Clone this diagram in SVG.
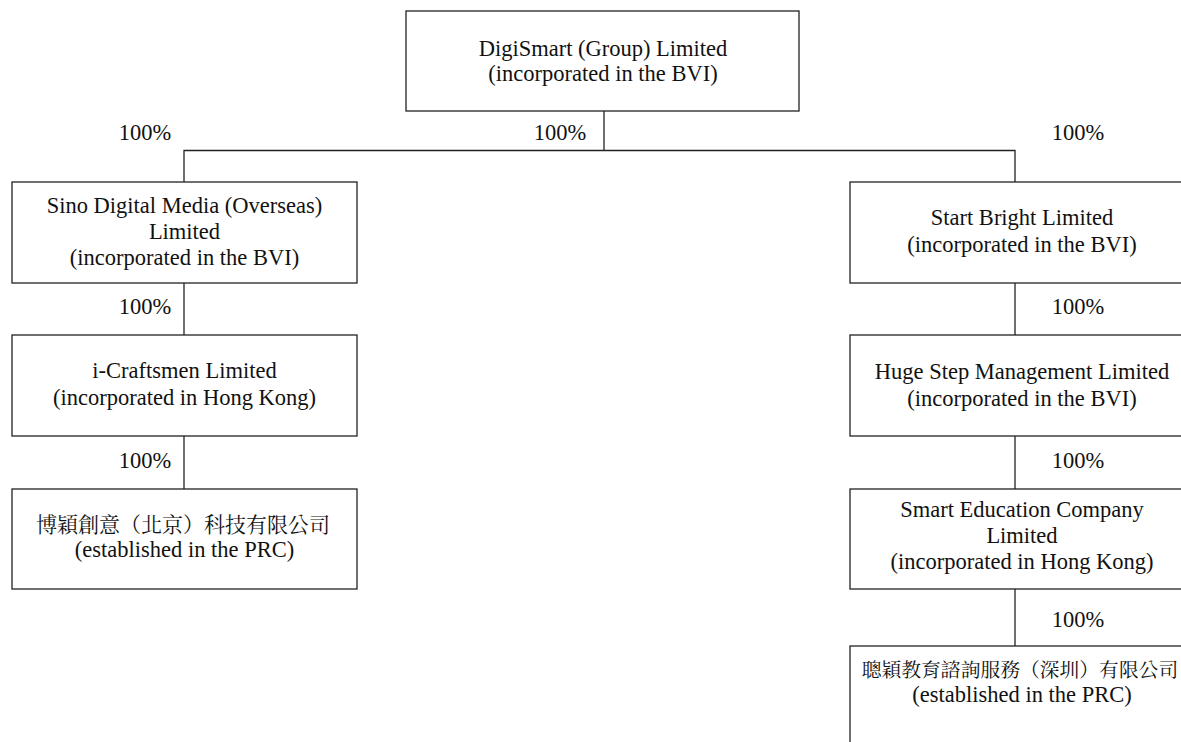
<svg xmlns="http://www.w3.org/2000/svg" width="1181" height="742" viewBox="0 0 1181 742">
<style>
.box{fill:#fff;stroke:#222;stroke-width:1.3}
.ln{fill:none;stroke:#222;stroke-width:1.3}
text{font-family:"Liberation Serif","Noto Serif CJK TC","Noto Sans CJK TC",serif;font-size:22.5px;fill:#111;text-anchor:middle}
.cjk{font-size:21px}
.cjk2{font-size:19.8px}
</style>
<rect width="1181" height="742" fill="#fff"/>
<g id="connectors">
<polyline class="ln" points="604,111 604,150.5"/>
<polyline class="ln" points="184,182 184,150.5 1015,150.5 1015,182"/>
<line class="ln" x1="184" y1="283" x2="184" y2="335"/>
<line class="ln" x1="184" y1="436" x2="184" y2="489"/>
<line class="ln" x1="1015" y1="283" x2="1015" y2="335"/>
<line class="ln" x1="1015" y1="436" x2="1015" y2="489"/>
<line class="ln" x1="1015" y1="589" x2="1015" y2="646"/>
<text x="145" y="140">100%</text>
<text x="560" y="140">100%</text>
<text x="1078" y="140">100%</text>
<text x="145" y="314">100%</text>
<text x="145" y="468">100%</text>
<text x="1078" y="314">100%</text>
<text x="1078" y="468">100%</text>
<text x="1078" y="627">100%</text>
</g>
<g id="n-digismart">
<rect class="box" x="406" y="11" width="393" height="100"/>
<text x="603" y="56">DigiSmart (Group) Limited</text>
<text x="603" y="81">(incorporated in the BVI)</text>
</g>
<g id="n-sino">
<rect class="box" x="12" y="182" width="345" height="101"/>
<text x="184.5" y="213">Sino Digital Media (Overseas)</text>
<text x="184.5" y="239">Limited</text>
<text x="184.5" y="265">(incorporated in the BVI)</text>
</g>
<g id="n-icraftsmen">
<rect class="box" x="12" y="335" width="345" height="101"/>
<text x="184.5" y="378">i-Craftsmen Limited</text>
<text x="184.5" y="405">(incorporated in Hong Kong)</text>
</g>
<g id="n-boying">
<rect class="box" x="12" y="489" width="345" height="100"/>
<text class="cjk" x="183" y="532">博穎創意（北京）科技有限公司</text>
<text x="184.5" y="557">(established in the PRC)</text>
</g>
<g id="n-startbright">
<rect class="box" x="850" y="182" width="345" height="101"/>
<text x="1022" y="225">Start Bright Limited</text>
<text x="1022" y="252">(incorporated in the BVI)</text>
</g>
<g id="n-hugestep">
<rect class="box" x="850" y="335" width="345" height="101"/>
<text x="1022" y="379">Huge Step Management Limited</text>
<text x="1022" y="406">(incorporated in the BVI)</text>
</g>
<g id="n-smartedu">
<rect class="box" x="850" y="489" width="345" height="100"/>
<text x="1022" y="517">Smart Education Company</text>
<text x="1022" y="543">Limited</text>
<text x="1022" y="569">(incorporated in Hong Kong)</text>
</g>
<g id="n-congying">
<rect class="box" x="850" y="646" width="345" height="110"/>
<text class="cjk2" x="1020" y="677">聰穎教育諮詢服務（深圳）有限公司</text>
<text x="1022" y="702">(established in the PRC)</text>
</g>
</svg>
